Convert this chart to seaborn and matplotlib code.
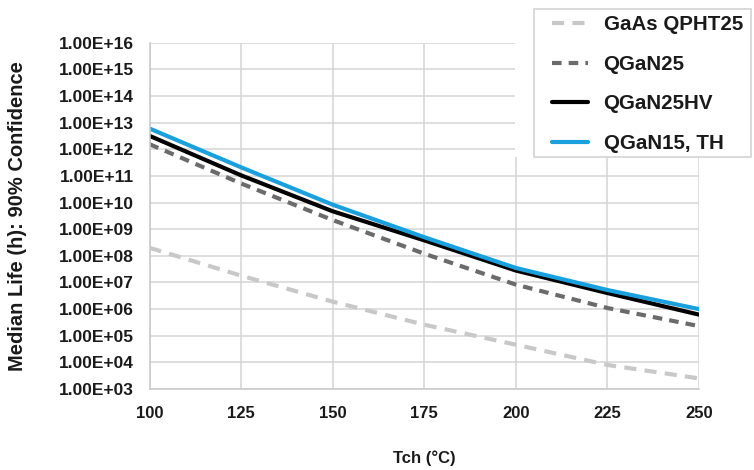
import matplotlib
matplotlib.use("Agg")
import matplotlib.pyplot as plt
import seaborn as sns
import pandas as pd
from matplotlib.ticker import FuncFormatter, FixedLocator, NullLocator
from matplotlib.patches import Rectangle

# Data
tch = [100, 125, 150, 175, 200, 225, 250]
gaas_qpht25 = [2.0e8, 1.8e7, 1.9e6, 2.6e5, 4.6e4, 8.0e3, 2.5e3]
qgan25 = [1.55e12, 5.2e10, 2.2e9, 1.2e8, 8.3e6, 1.1e6, 2.3e5]
qgan25hv = [3.2e12, 1.05e11, 4.7e9, 3.8e8, 2.8e7, 4.0e6, 6.2e5]
qgan15_th = [6.0e12, 2.1e11, 8.3e9, 5.0e8, 3.5e7, 5.2e6, 1.0e6]
series_names = ["GaAs QPHT25", "QGaN25", "QGaN25HV", "QGaN15, TH"]
x_ticks = [100, 125, 150, 175, 200, 225, 250]
y_ticks = [1e3, 1e4, 1e5, 1e6, 1e7, 1e8, 1e9, 1e10, 1e11, 1e12, 1e13, 1e14, 1e15, 1e16]

df = pd.DataFrame({
    "Tch": tch * 4,
    "Life": gaas_qpht25 + qgan25 + qgan25hv + qgan15_th,
    "Series": sum([[n] * len(tch) for n in series_names], []),
})

sns.set_theme(style="whitegrid")
plt.rcParams["font.family"] = ["Liberation Sans", "DejaVu Sans"]
plt.rcParams["font.weight"] = "bold"

W, H = 754, 470
fig = plt.figure(figsize=(W / 100, H / 100), dpi=100)
ax = fig.add_axes([149.5 / W, 1 - 389 / H, (699 - 149.5) / W, (389 - 42.7) / H])

colors = ["#c8c8c8", "#6b6b6b", "#000000", "#1aa0dc"]
styles = [(0, (2.9, 2.0)), (0, (2.3, 1.7)), "-", "-"]
handles = []
for name, c, ls in zip(series_names, colors, styles):
    sub = df[df["Series"] == name]
    sns.lineplot(data=sub, x="Tch", y="Life", ax=ax, color=c, linewidth=3,
                 linestyle=ls, label=name, sort=False, legend=False)
    handles.append(ax.lines[-1])

ax.set_yscale("log")
ax.set_xlim(100, 250)
ax.set_ylim(1e3, 1e16)
ax.xaxis.set_major_locator(FixedLocator(x_ticks))
ax.yaxis.set_major_locator(FixedLocator(y_ticks))
ax.yaxis.set_minor_locator(NullLocator())
ax.yaxis.set_major_formatter(FuncFormatter(lambda v, p: f"{v:.2E}"))
ax.xaxis.set_major_formatter(FuncFormatter(lambda v, p: f"{int(v)}"))

ax.grid(True, color="#d4d4d4", linewidth=1.1)
ax.set_axisbelow(True)
for s in ["top", "right"]:
    ax.spines[s].set_visible(False)
for s in ["left", "bottom"]:
    ax.spines[s].set_color("#c8c8c8")
    ax.spines[s].set_linewidth(1.1)

ax.tick_params(axis="x", length=4, color="#c8c8c8", width=1.1, pad=8,
               labelsize=12, labelcolor="#1a1a1a")
ax.tick_params(axis="y", length=0, pad=11, labelsize=12.5, labelcolor="#1a1a1a")
for lab in ax.get_xticklabels() + ax.get_yticklabels():
    lab.set_fontweight("bold")

ax.set_xlabel("Tch (°C)", fontsize=12, fontweight="bold", color="#1a1a1a", va="center")
ax.set_ylabel("Median Life (h): 90% Confidence", fontsize=14.5, fontweight="bold",
              color="#1a1a1a", va="center")
ax.xaxis.set_label_coords(0.5, (389 - 458) / 346.3)
ax.yaxis.set_label_coords((18 - 149.5) / 549.5, 0.5)

# white area behind legend (covers the gridlines as in the reference)
fig.patches.append(Rectangle((515 / W, 1 - 157 / H), 1, 157 / H,
                             transform=fig.transFigure, facecolor="white",
                             edgecolor="none", zorder=1))
# legend frame
fig.patches.append(Rectangle((534 / W, 1 - 157 / H), (751 - 534) / W, (157 - 9) / H,
                             transform=fig.transFigure, facecolor="white",
                             edgecolor="#d0d0d0", linewidth=1.1, zorder=2))

leg = fig.legend(handles, series_names, loc="upper left",
                 bbox_to_anchor=(547 / W, 1 - 10 / H),
                 bbox_transform=fig.transFigure, borderaxespad=0,
                 frameon=False,
                 labelspacing=1.0, handlelength=1.75, handletextpad=0.75,
                 borderpad=0.25, prop={"weight": "bold", "size": 14.8,
                                       "family": ["Liberation Sans", "DejaVu Sans"]})
for t in leg.get_texts():
    t.set_color("#1a1a1a")
leg.set_zorder(5)

fig.savefig("out.png", dpi=100)
